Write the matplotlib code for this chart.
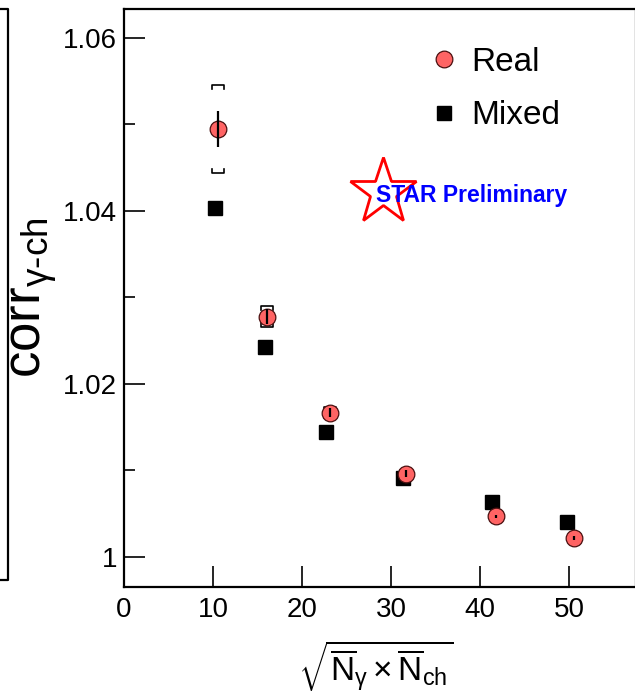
import numpy as np
import matplotlib
matplotlib.use('Agg')
import matplotlib.pyplot as plt
from matplotlib.lines import Line2D

plt.rcParams['font.family'] = ['Liberation Sans', 'DejaVu Sans']
plt.rcParams['mathtext.fontset'] = 'custom'
plt.rcParams['mathtext.rm'] = 'Liberation Sans'
plt.rcParams['mathtext.it'] = 'Liberation Sans'
plt.rcParams['mathtext.sf'] = 'Liberation Sans'

# data
real_x = [10.6, 16.1, 23.1, 31.7, 41.8, 50.5]
real_y = [1.0495, 1.0278, 1.0167, 1.0096, 1.0047, 1.0022]
real_stat = [0.0021, 0.0009, 0.0005, 0.0004, 0.0002, 0.0002]
real_sys = [0.0051, 0.00125, 0.0006, 0.0005, 0.0, 0.0]

mixed_x = [10.2, 15.8, 22.7, 31.3, 41.3, 49.8]
mixed_y = [1.0404, 1.0243, 1.0144, 1.0091, 1.0063, 1.0041]

xticks = [0, 10, 20, 30, 40, 50]
yticks = [1.0, 1.02, 1.04, 1.06]
yticklabels = ['1', '1.02', '1.04', '1.06']

W, H = 635, 699
fig = plt.figure(figsize=(W / 100, H / 100), dpi=100)
ax = fig.add_axes([124 / W, 112 / H, 512 / W, 578 / H])

ax.set_xlim(0, 57.5)
ax.set_ylim(0.99653, 1.06335)

# mixed events
ax.plot(mixed_x, mixed_y, 's', color='black', ms=10, label='Mixed', zorder=3)

# systematic brackets for real
dx = 0.68
tick = 0.0005
for x, y, s in zip(real_x, real_y, real_sys):
    if s <= 0:
        continue
    t = min(tick, s)
    ax.plot([x - dx, x - dx, x + dx, x + dx], [y + s - t, y + s, y + s, y + s - t],
            color='black', lw=1.2, zorder=4)
    ax.plot([x - dx, x - dx, x + dx, x + dx], [y - s + t, y - s, y - s, y - s + t],
            color='black', lw=1.2, zorder=4)

# real events
ax.plot(real_x, real_y, 'o', color='#ff6464', mec='#4a1010', mew=0.9, ms=12,
        label='Real', zorder=5)
ax.errorbar(real_x, real_y, yerr=real_stat, fmt='none', ecolor='black',
            elinewidth=1.6, capsize=0, zorder=6)

ax.set_xticks(xticks)
ax.set_yticks(yticks)
ax.set_yticklabels(yticklabels)
ax.set_yticks([1.01, 1.03, 1.05], minor=True)
ax.tick_params(axis='both', which='major', direction='in', labelsize=20,
               length=15, width=1.2)
ax.tick_params(axis='y', which='minor', direction='in', length=8, width=1.2)
ax.tick_params(axis='x', pad=7)
ax.tick_params(axis='y', pad=5)
for sp in ax.spines.values():
    sp.set_linewidth(1.6)

ax.set_ylabel(r'corr$_{\gamma\text{-ch}}$', fontsize=38)
ax.yaxis.set_label_coords(-0.127, 0.5)
ax.set_xlabel(r'$\sqrt{\overline{N}_{\gamma} \times \overline{N}_{\mathrm{ch}}}$', fontsize=24)
ax.xaxis.set_label_coords(0.492, -0.088)

handles, labels = ax.get_legend_handles_labels()
ax.legend(handles[::-1], labels[::-1], loc='upper left',
          bbox_to_anchor=(0.592, 0.935), frameon=False, fontsize=24,
          handlelength=1.0, handletextpad=0.33, labelspacing=0.68,
          borderpad=0, borderaxespad=0, numpoints=1)

# STAR Preliminary logo
ax.plot([0.506], [0.683], marker='*', ms=50, mfc='white', mec='red', mew=2.0,
        transform=ax.transAxes, clip_on=False, zorder=2)
ax.text(0.492, 0.678, 'STAR Preliminary', transform=ax.transAxes, color='blue',
        fontsize=16.5, fontweight='bold', va='center', ha='left', zorder=7)

# edge of the neighbouring panel
fig.add_artist(Line2D([0, 8 / W, 8 / W, 0],
                      [1 - 9 / H, 1 - 9 / H, 1 - 580 / H, 1 - 580 / H],
                      transform=fig.transFigure, color='black', lw=1.6))

fig.savefig('out.png', dpi=100)
